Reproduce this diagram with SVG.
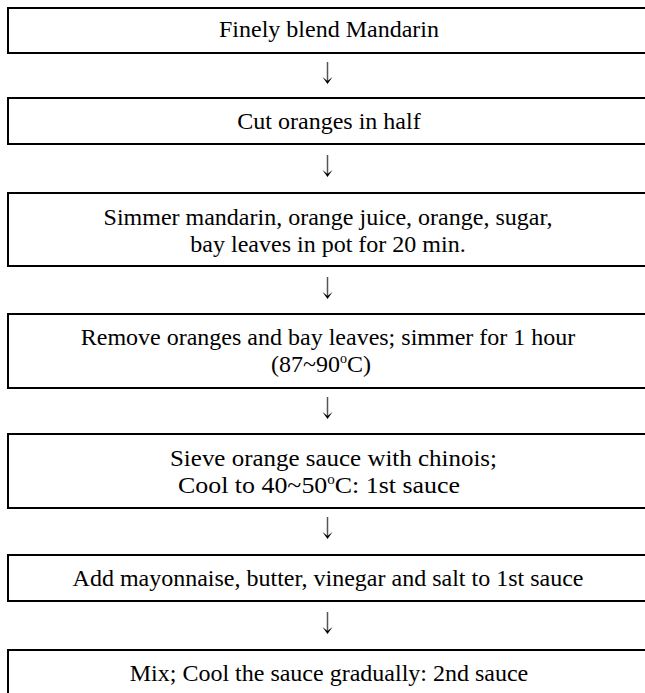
<svg xmlns="http://www.w3.org/2000/svg" width="645" height="693" viewBox="0 0 645 693">
<style>
.box{fill:#fff;stroke:#000;stroke-width:2}
.t{font-family:"Liberation Serif","Times New Roman",serif;font-size:24px;fill:#000;text-anchor:middle}
.sup{font-size:14px}
.c{stroke:#555;stroke-width:1.5;fill:none}
.h{fill:#000;stroke:none}
</style>
<defs>
<path id="ah" class="h" d="M-5,-7 L0,0 L5,-7 L0,-3 Z"/>
</defs>
<rect width="645" height="693" fill="#fff"/>
<g id="connectors">
<line class="c" x1="327.5" y1="62" x2="327.5" y2="82"/><use href="#ah" x="327.5" y="84"/>
<line class="c" x1="327.5" y1="155" x2="327.5" y2="175"/><use href="#ah" x="327.5" y="177"/>
<line class="c" x1="327.5" y1="277" x2="327.5" y2="297"/><use href="#ah" x="327.5" y="299"/>
<line class="c" x1="327.5" y1="397" x2="327.5" y2="417"/><use href="#ah" x="327.5" y="419"/>
<line class="c" x1="327.5" y1="517" x2="327.5" y2="537"/><use href="#ah" x="327.5" y="539"/>
<line class="c" x1="327.5" y1="612" x2="327.5" y2="632"/><use href="#ah" x="327.5" y="634"/>
</g>
<g id="n1"><rect class="box" x="8" y="8" width="645" height="45"/>
<text class="t" x="329" y="37">Finely blend Mandarin</text></g>
<g id="n2"><rect class="box" x="8" y="98" width="645" height="46"/>
<text class="t" x="329" y="129">Cut oranges in half</text></g>
<g id="n3"><rect class="box" x="8" y="193" width="645" height="73"/>
<text class="t" x="328" y="225">Simmer mandarin, orange juice, orange, sugar,</text>
<text class="t" x="328" y="252">bay leaves in pot for 20 min.</text></g>
<g id="n4"><rect class="box" x="8" y="314" width="645" height="74"/>
<text class="t" x="328" y="345">Remove oranges and bay leaves; simmer for 1 hour</text>
<text class="t" x="321" y="372">(87~90<tspan class="sup" dy="-9">o</tspan><tspan dy="9">C)</tspan></text></g>
<g id="n5"><rect class="box" x="8" y="434" width="645" height="74"/>
<text class="t" x="333.5" y="466" textLength="327" lengthAdjust="spacingAndGlyphs">Sieve orange sauce with chinois;</text>
<text class="t" x="319" y="493" textLength="282" lengthAdjust="spacingAndGlyphs">Cool to 40~50<tspan class="sup" dy="-9">o</tspan><tspan dy="9">C: 1st sauce</tspan></text></g>
<g id="n6"><rect class="box" x="8" y="555" width="645" height="46"/>
<text class="t" x="328" y="586">Add mayonnaise, butter, vinegar and salt to 1st sauce</text></g>
<g id="n7"><rect class="box" x="8" y="650" width="645" height="60"/>
<text class="t" x="329" y="681">Mix; Cool the sauce gradually: 2nd sauce</text></g>
</svg>
